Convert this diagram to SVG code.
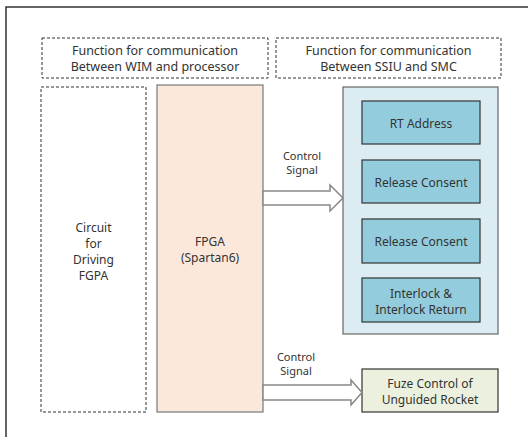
<svg xmlns="http://www.w3.org/2000/svg" width="528" height="437" viewBox="0 0 528 437">
  <style>
    text { font-family: "Noto Sans", "Open Sans", sans-serif; font-size: 12px; fill: #333; text-anchor: middle; dominant-baseline: central; }
    .hdr { font-size: 12.5px; }
    .sig { font-size: 11px; }
    .dash { fill: #fff; stroke: #333; stroke-width: 1; stroke-dasharray: 3 2; }
    .fpga { fill: #fce8da; stroke: #777; stroke-width: 1.2; }
    .panel { fill: #dbedf2; stroke: #666; stroke-width: 1.2; }
    .item { fill: #93cddd; stroke: #333; stroke-width: 1.2; }
    .fuze { fill: #ebf1de; stroke: #333; stroke-width: 1.2; }
    .arrow { fill: #fff; stroke: #888; stroke-width: 1.5; stroke-linejoin: miter; }
    .frame { fill: none; stroke: #333; stroke-width: 1.5; }
  </style>
  <rect width="528" height="437" fill="#fff"/>
  <!-- page frame -->
  <polyline class="frame" points="6,437 6,7 528,7"/>

  <g id="hdr-wim">
    <rect class="dash" x="42" y="38" width="226" height="40"/>
    <text class="hdr" x="155" y="50">Function for communication</text>
    <text class="hdr" x="155" y="66">Between WIM and processor</text>
  </g>
  <g id="hdr-ssiu">
    <rect class="dash" x="276" y="38" width="225" height="40"/>
    <text class="hdr" x="388.5" y="50">Function for communication</text>
    <text class="hdr" x="388.5" y="66">Between SSIU and SMC</text>
  </g>

  <g id="driver">
    <rect class="dash" x="41" y="87" width="105" height="325"/>
    <text x="93.5" y="227">Circuit</text>
    <text x="93.5" y="243">for</text>
    <text x="93.5" y="259">Driving</text>
    <text x="93.5" y="275">FGPA</text>
  </g>

  <g id="fpga">
    <rect class="fpga" x="157" y="85" width="106" height="327"/>
    <text x="210" y="241">FPGA</text>
    <text x="210" y="257">(Spartan6)</text>
  </g>

  <g id="smc-panel">
    <rect class="panel" x="343" y="87" width="155" height="247"/>
  </g>
  <g id="rt-address">
    <rect class="item" x="362" y="101" width="118" height="43"/>
    <text x="421" y="123">RT Address</text>
  </g>
  <g id="release-1">
    <rect class="item" x="362" y="160" width="118" height="43"/>
    <text x="421" y="182">Release Consent</text>
  </g>
  <g id="release-2">
    <rect class="item" x="362" y="219" width="118" height="44"/>
    <text x="421" y="241">Release Consent</text>
  </g>
  <g id="interlock">
    <rect class="item" x="362" y="278" width="118" height="44"/>
    <text x="421" y="293">Interlock &amp;</text>
    <text x="421" y="309">Interlock Return</text>
  </g>

  <g id="fuze">
    <rect class="fuze" x="362" y="369" width="136" height="43"/>
    <text x="430" y="383">Fuze Control of</text>
    <text x="430" y="399">Unguided Rocket</text>
  </g>

  <g id="connectors">
    <polygon class="arrow" points="263,191 330,191 330,185 343,198 330,211 330,205 263,205"/>
    <text class="sig" x="302" y="155">Control</text>
    <text class="sig" x="302" y="169">Signal</text>
    <polygon class="arrow" points="263,385 351,385 351,380 362,392.5 351,405 351,400 263,400"/>
    <text class="sig" x="296" y="356">Control</text>
    <text class="sig" x="296" y="370">Signal</text>
  </g>
</svg>
